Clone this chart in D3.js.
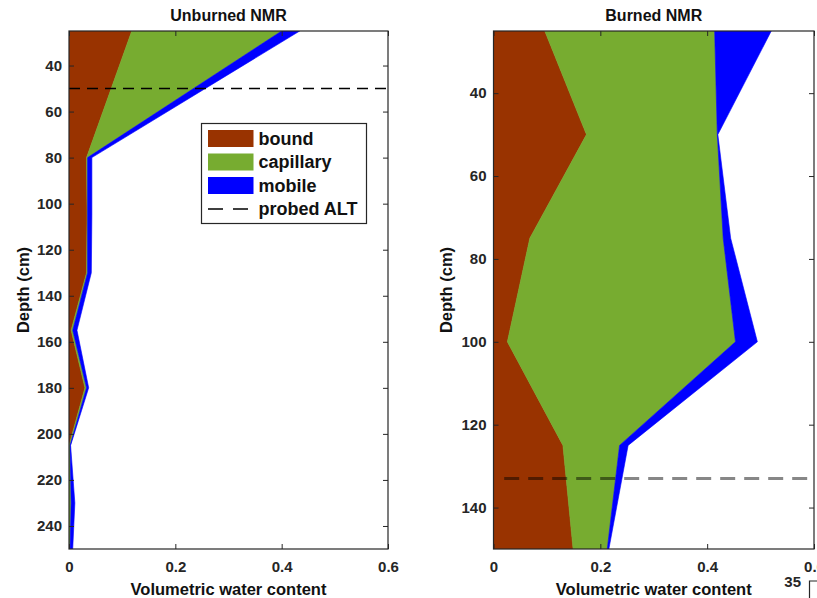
<!DOCTYPE html>
<html>
<head>
<meta charset="utf-8">
<script src="https://cdn.jsdelivr.net/npm/d3@7"></script>
<style>
  body { margin: 0; background: #fff; }
  svg { display: block; font-family: "Liberation Sans", Arial, Helvetica, sans-serif; }
</style>
</head>
<body>
<svg id="chart" width="817" height="598"></svg>
<script>
(function() {
    'use strict';

    // unburned profile (depth in cm, volumetric water content per pool)
    var depthUnburned = [25, 80, 105, 130, 155, 180, 205, 230, 250];
    var boundUnburned = [0.118, 0.033, 0.034, 0.033, 0.004, 0.030, 0.000, 0.000, 0.000];
    var capillaryUnburned = [0.282, 0.002, 0.001, 0.002, 0.003, 0.003, 0.002, 0.004, 0.002];
    var mobileUnburned = [0.034, 0.008, 0.008, 0.007, 0.008, 0.004, 0.001, 0.007, 0.005];
    var altUnburned = 50;

    // burned profile
    var depthBurned = [25, 50, 75, 100, 125, 150];
    var boundBurned = [0.096, 0.174, 0.068, 0.026, 0.130, 0.149];
    var capillaryBurned = [0.318, 0.245, 0.362, 0.427, 0.106, 0.064];
    var mobileBurned = [0.106, 0.001, 0.014, 0.041, 0.016, 0.003];
    var altBurned = 133;

    var seriesKeys = ['bound', 'capillary', 'mobile'];
    var seriesColors = ['#993300', '#77ac30', '#0000ff'];
    var xTicks = [0, 0.2, 0.4, 0.6];
    var yTicksUnburned = [40, 60, 80, 100, 120, 140, 160, 180, 200, 220, 240];
    var yTicksBurned = [40, 60, 80, 100, 120, 140];

    var axisColor = '#262626';
    var svg = d3.select('#chart');

    function buildRows(depth, bound, capillary, mobile) {
        return depth.map(function(d, i) {
            return { depth: d, bound: bound[i], capillary: capillary[i], mobile: mobile[i] };
        });
    }

    function drawPanel(opts) {
        var left = opts.left, right = opts.right, top = 31, bottom = 549;
        var x = d3.scaleLinear().domain([0, 0.6]).range([left, right]);
        var y = d3.scaleLinear().domain(opts.yDomain).range([top, bottom]);

        var clipId = 'clip-' + opts.id;
        svg.append('clipPath').attr('id', clipId)
            .append('rect')
            .attr('x', left).attr('y', top)
            .attr('width', right - left).attr('height', bottom - top);

        var g = svg.append('g');
        var plot = g.append('g').attr('clip-path', 'url(#' + clipId + ')');

        var stacked = d3.stack().keys(seriesKeys)(opts.rows);
        var area = d3.area()
            .y(function(d) { return y(d.data.depth); })
            .x0(function(d) { return x(d[0]); })
            .x1(function(d) { return x(d[1]); });

        plot.selectAll('path.layer')
            .data(stacked)
            .enter().append('path')
            .attr('class', 'layer')
            .attr('d', area)
            .attr('fill', function(d, i) { return seriesColors[i]; })
            .attr('stroke', function(d, i) { return seriesColors[i]; })
            .attr('stroke-width', 0.6);

        // probed active layer thickness
        plot.append('line')
            .attr('x1', x(opts.altX[0])).attr('x2', x(opts.altX[1]))
            .attr('y1', y(opts.alt)).attr('y2', y(opts.alt))
            .attr('stroke', opts.altColor)
            .attr('stroke-width', opts.altWidth)
            .attr('stroke-dasharray', opts.altDash);

        // axes, ticks pointing inward
        var yLeft = g.append('g').attr('transform', 'translate(' + left + ',0)')
            .call(d3.axisLeft(y).tickValues(opts.yTicks).tickSize(-5).tickPadding(7));
        var yRight = g.append('g').attr('transform', 'translate(' + right + ',0)')
            .call(d3.axisRight(y).tickValues(opts.yTicks).tickSize(-5).tickFormat(''));
        var xBottom = g.append('g').attr('transform', 'translate(0,' + bottom + ')')
            .call(d3.axisBottom(x).tickValues(xTicks).tickSize(-5).tickPadding(12)
                .tickFormat(function(d) { return String(d); }));
        var xTop = g.append('g').attr('transform', 'translate(0,' + top + ')')
            .call(d3.axisTop(x).tickValues(xTicks).tickSize(-5).tickFormat(''));

        [yLeft, yRight, xBottom, xTop].forEach(function(a) {
            a.select('.domain').remove();
            a.selectAll('line').attr('stroke', axisColor);
            a.selectAll('text')
                .attr('fill', axisColor)
                .style('font-size', '15px')
                .style('font-weight', 'bold');
        });

        g.append('rect')
            .attr('x', left).attr('y', top)
            .attr('width', right - left).attr('height', bottom - top)
            .attr('fill', 'none')
            .attr('stroke', axisColor)
            .attr('stroke-width', 1.2);

        g.append('text')
            .attr('x', (left + right) / 2).attr('y', 21)
            .attr('text-anchor', 'middle')
            .style('font-size', '16px').style('font-weight', 'bold')
            .attr('fill', '#111')
            .text(opts.title);

        g.append('text')
            .attr('x', (left + right) / 2).attr('y', 595)
            .attr('text-anchor', 'middle')
            .style('font-size', '16.5px').style('font-weight', 'bold')
            .attr('fill', '#111')
            .text('Volumetric water content');

        g.append('text')
            .attr('transform', 'translate(' + opts.yLabelX + ',' + ((top + bottom) / 2) + ') rotate(-90)')
            .attr('text-anchor', 'middle')
            .style('font-size', '16.5px').style('font-weight', 'bold')
            .attr('fill', '#111')
            .text('Depth (cm)');

        return { x: x, y: y };
    }

    drawPanel({
        id: 'unburned',
        title: 'Unburned NMR',
        left: 69, right: 388,
        yDomain: [25, 250],
        yTicks: yTicksUnburned,
        yLabelX: 29,
        rows: buildRows(depthUnburned, boundUnburned, capillaryUnburned, mobileUnburned),
        alt: altUnburned, altX: [0, 0.6],
        altColor: '#000', altWidth: 1.5, altDash: '11,7'
    });

    drawPanel({
        id: 'burned',
        title: 'Burned NMR',
        left: 493.5, right: 814,
        yDomain: [25, 150],
        yTicks: yTicksBurned,
        yLabelX: 452,
        rows: buildRows(depthBurned, boundBurned, capillaryBurned, mobileBurned),
        alt: altBurned, altX: [0.02, 0.6],
        altColor: 'rgba(0,0,0,0.47)', altWidth: 3, altDash: '15,9'
    });

    // legend (left panel)
    var legendLabels = ['bound', 'capillary', 'mobile', 'probed ALT'];
    var legend = svg.append('g').attr('transform', 'translate(201.5,123.5)');
    legend.append('rect')
        .attr('width', 165).attr('height', 100)
        .attr('fill', '#fff').attr('stroke', axisColor).attr('stroke-width', 1.2);

    var rowsG = legend.selectAll('g.item')
        .data(legendLabels)
        .enter().append('g')
        .attr('class', 'item')
        .attr('transform', function(d, i) { return 'translate(0,' + (15 + i * 23.5) + ')'; });

    rowsG.each(function(d, i) {
        var row = d3.select(this);
        if (i < 3) {
            row.append('rect')
                .attr('x', 6.5).attr('y', -8.5)
                .attr('width', 45.5).attr('height', 17)
                .attr('fill', seriesColors[i]);
        } else {
            row.append('line')
                .attr('x1', 6.5).attr('x2', 52)
                .attr('stroke', '#000').attr('stroke-width', 1.5)
                .attr('stroke-dasharray', '15,10');
        }
        row.append('text')
            .attr('x', 57).attr('y', 6)
            .style('font-size', '18px').style('font-weight', 'bold')
            .attr('fill', '#111')
            .text(d);
    });

    // fragment of a neighbouring axis at the bottom right edge
    svg.append('text')
        .attr('x', 801).attr('y', 587)
        .attr('text-anchor', 'end')
        .style('font-size', '15px').style('font-weight', 'bold')
        .attr('fill', axisColor)
        .text('35');
    svg.append('path')
        .attr('d', 'M817,581H809.5V598')
        .attr('fill', 'none')
        .attr('stroke', axisColor)
        .attr('stroke-width', 1.2);
})();
</script>
</body>
</html>
